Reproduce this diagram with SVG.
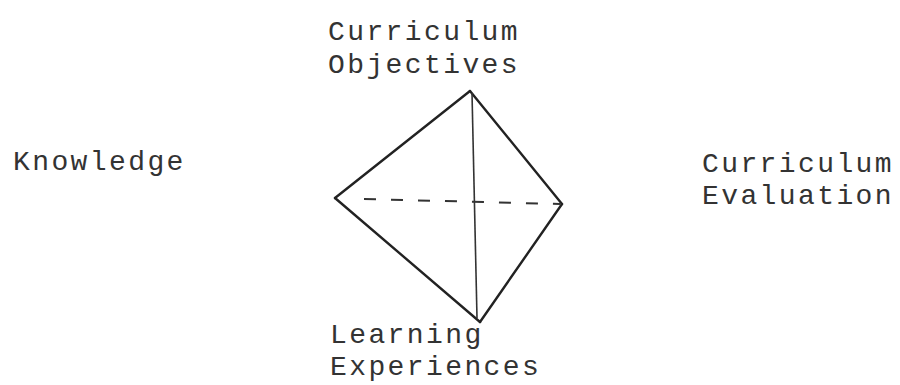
<svg xmlns="http://www.w3.org/2000/svg" width="900" height="385" viewBox="0 0 900 385">
<style>
.lbl{font-family:"Liberation Mono","Courier New",monospace;font-size:28px;letter-spacing:2.4px;fill:#333}
.edge{stroke:#222;stroke-width:2.4;fill:none;stroke-linecap:round}
.thin{stroke:#333;stroke-width:1.6;fill:none}
.dash{stroke:#333;stroke-width:2;fill:none;stroke-dasharray:12 15}
</style>
<rect width="900" height="385" fill="#fff"/>
<g id="connectors">
<line class="edge" x1="470" y1="91" x2="335" y2="198"/>
<line class="edge" x1="335" y1="198" x2="480" y2="322"/>
<line class="edge" x1="480" y1="322" x2="562" y2="204"/>
<line class="edge" x1="562" y1="204" x2="470" y2="91"/>
<line class="thin" x1="472" y1="93" x2="477" y2="318"/>
<line class="dash" x1="364" y1="199" x2="560" y2="204"/>
</g>
<g id="objectives"><text class="lbl" x="328" y="40">Curriculum</text><text class="lbl" x="328" y="73">Objectives</text></g>
<g id="knowledge"><text class="lbl" x="13" y="170">Knowledge</text></g>
<g id="evaluation"><text class="lbl" x="702" y="172">Curriculum</text><text class="lbl" x="702" y="204">Evaluation</text></g>
<g id="experiences"><text class="lbl" x="330" y="343">Learning</text><text class="lbl" x="330" y="375">Experiences</text></g>
</svg>
